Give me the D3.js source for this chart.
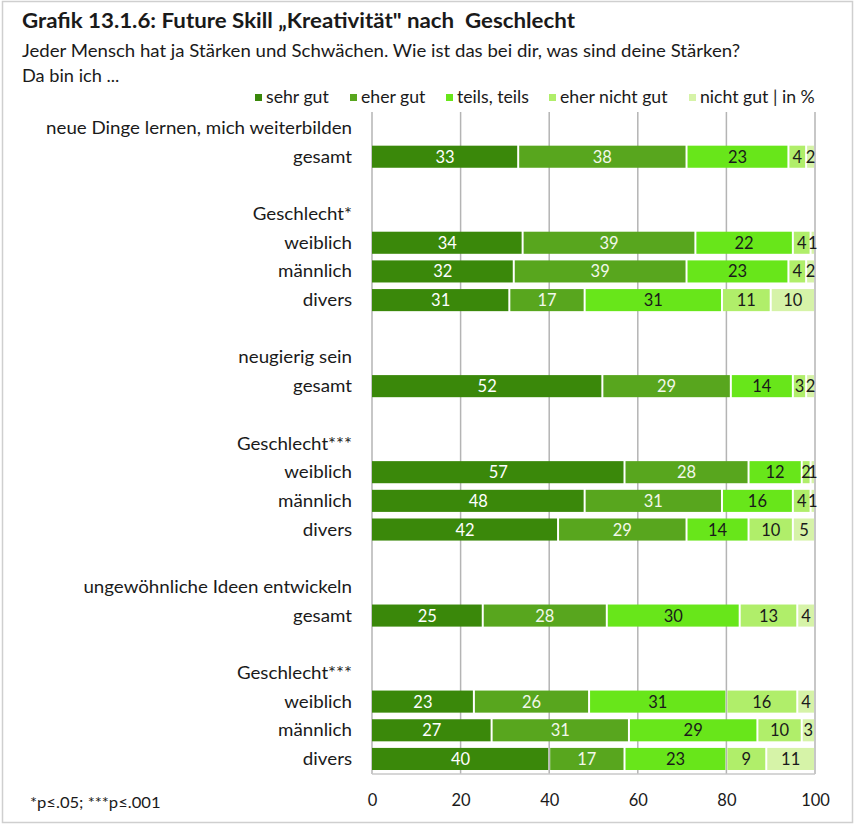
<!DOCTYPE html>
<html><head><meta charset="utf-8">
<script src="https://cdn.jsdelivr.net/npm/d3@7"></script>
<style>body{margin:0;background:#fff;} svg{display:block;font-family:Lato,"Open Sans",sans-serif;} text{white-space:pre;}</style>
</head><body>
<svg id="c" width="857" height="825"></svg>
<script>
// ---- data ----
const rowLabels = ["neue Dinge lernen, mich weiterbilden","gesamt","","Geschlecht*","weiblich","männlich","divers","",
  "neugierig sein","gesamt","","Geschlecht***","weiblich","männlich","divers","",
  "ungewöhnliche Ideen entwickeln","gesamt","","Geschlecht***","weiblich","männlich","divers"];
const seriesNames = ["sehr gut","eher gut","teils, teils","eher nicht gut","nicht gut"];
const sehrGut     = [null,33,null,null,34,32,31,null,null,52,null,null,57,48,42,null,null,25,null,null,23,27,40];
const eherGut     = [null,38,null,null,39,39,17,null,null,29,null,null,28,31,29,null,null,28,null,null,26,31,17];
const teilsTeils  = [null,23,null,null,22,23,31,null,null,14,null,null,12,16,14,null,null,30,null,null,31,29,23];
const eherNicht   = [null,4,null,null,4,4,11,null,null,3,null,null,2,4,10,null,null,13,null,null,16,10,9];
const nichtGut    = [null,2,null,null,1,2,10,null,null,2,null,null,1,1,5,null,null,4,null,null,4,3,11];
const xTicks = [0,20,40,60,80,100];
const colors = ["#3a880a","#58a61e","#68e61a","#b0ee6a","#d6f3a8"];
const labelColors = ["#ffffff","#f2f8ea","#1a1a1a","#1a1a1a","#1a1a1a"];

const svg = d3.select("#c");
const STRETCH = 1.07;
function stretch(sel){ sel.each(function(){ const w=this.getComputedTextLength(); if(w>0){ d3.select(this).attr("textLength",w*STRETCH).attr("lengthAdjust","spacingAndGlyphs"); } }); }

// frame
svg.append("rect").attr("x",2.5).attr("y",1.5).attr("width",850).attr("height",821)
  .attr("fill","none").attr("stroke","#cfcfcf").attr("stroke-width",1.5);

svg.append("text").attr("x",22).attr("y",28).attr("font-size",20).attr("font-weight","bold").attr("fill","#1a1a1a")
  .attr("textLength",553).attr("lengthAdjust","spacingAndGlyphs")
  .text("Grafik 13.1.6: Future Skill „Kreativität\" nach  Geschlecht");
svg.append("text").attr("x",22).attr("y",57).attr("font-size",17).attr("fill","#1a1a1a")
  .attr("textLength",718).attr("lengthAdjust","spacingAndGlyphs")
  .text("Jeder Mensch hat ja Stärken und Schwächen. Wie ist das bei dir, was sind deine Stärken?");
svg.append("text").attr("x",22).attr("y",82).attr("font-size",17).attr("fill","#1a1a1a").text("Da bin ich ...").call(stretch);

// legend
const legX = [255,350,446,549,689];
const legendLabels = ["sehr gut","eher gut","teils, teils","eher nicht gut","nicht gut | in %"];
const lg = svg.append("g");
legendLabels.forEach((l,i)=>{
  lg.append("rect").attr("x",legX[i]).attr("y",94).attr("width",7).attr("height",7).attr("fill",colors[i]);
  lg.append("text").attr("x",legX[i]+11).attr("y",103).attr("font-size",16.5).attr("fill","#1a1a1a").text(l).call(stretch);
});

const x = d3.scaleLinear().domain([0,100]).range([372,815]);
const y = d3.scaleBand().domain(d3.range(rowLabels.length)).range([113.7,773.3]).paddingInner(0.23).paddingOuter(0.115);

// gridlines
svg.append("g").selectAll("line").data(xTicks).join("line")
  .attr("x1",d=>x(d)).attr("x2",d=>x(d)).attr("y1",112).attr("y2",774)
  .attr("stroke","#b4b4b4").attr("stroke-width",1.5);
svg.append("line").attr("x1",372).attr("x2",815).attr("y1",774).attr("y2",774).attr("stroke","#c8c8c8").attr("stroke-width",1.5);

// row labels
svg.append("g").selectAll("text").data(rowLabels).join("text")
  .attr("x",352).attr("y",(d,i)=>y(i)+y.bandwidth()/2+6).attr("text-anchor","end")
  .attr("font-size",17.5).attr("fill","#1a1a1a").text(d=>d).call(stretch);

// stacked bars
const allSeries = [sehrGut,eherGut,teilsTeils,eherNicht,nichtGut];
const rowsData = rowLabels.map((r,i)=>{ const o={i}; allSeries.forEach((s,k)=>o[k]=s[i]); return o;}).filter(d=>d[0]!==null);
const stack = d3.stack().keys([0,1,2,3,4])(rowsData);
const bars = svg.append("g");
stack.forEach((layer,k)=>{
  const g = bars.append("g");
  g.selectAll("rect").data(layer).join("rect")
    .attr("x",d=>x(d[0])+ (k>0?1:0)).attr("width",d=>Math.max(0,x(d[1])-x(d[0])-(k>0?2:1)))
    .attr("y",d=>y(d.data.i)).attr("height",y.bandwidth()).attr("fill",colors[k]);
  g.selectAll("text").data(layer).join("text")
    .attr("x",d=>(x(d[0])+x(d[1]))/2).attr("y",d=>y(d.data.i)+y.bandwidth()/2+6)
    .attr("text-anchor","middle").attr("font-size",16.5).attr("fill",labelColors[k])
    .text(d=>d.data[k]);
});

// axis
const ax = svg.append("g").attr("transform","translate(0,782)")
  .call(d3.axisBottom(x).tickValues(xTicks).tickSize(0).tickPadding(12));
ax.select(".domain").remove();
ax.selectAll("text").attr("font-size",16.5).attr("fill","#1a1a1a").attr("font-family","Lato,sans-serif");

svg.append("text").attr("x",30).attr("y",808).attr("font-size",15.5).attr("fill","#1a1a1a").text("*p≤.05; ***p≤.001").call(stretch);
</script>
</body></html>
